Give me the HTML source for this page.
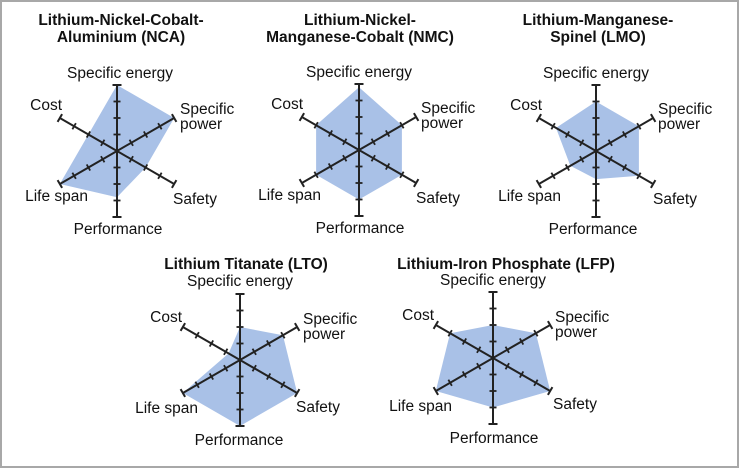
<!DOCTYPE html>
<html><head><meta charset="utf-8"><style>
html,body{margin:0;padding:0;background:#fff}
svg{display:block}
text{font-family:"Liberation Sans",Arial,sans-serif;font-size:15.5px;fill:#111}
.t{font-weight:bold}
</style></head><body>
<svg id="s" width="739" height="468" viewBox="0 0 739 468">
<rect x="1" y="1" width="737" height="466" fill="#fff" stroke="#a8a8a8" stroke-width="2"/>
<g id="polys"></g>
<g id="axes"></g>
<text class="t" x="121" y="25" text-anchor="middle">Lithium-Nickel-Cobalt-</text>
<text class="t" x="121" y="42" text-anchor="middle">Aluminium (NCA)</text>
<text class="t" x="360" y="25" text-anchor="middle">Lithium-Nickel-</text>
<text class="t" x="360" y="42" text-anchor="middle">Manganese-Cobalt (NMC)</text>
<text class="t" x="598" y="25" text-anchor="middle">Lithium-Manganese-</text>
<text class="t" x="598" y="42" text-anchor="middle">Spinel (LMO)</text>
<text class="t" x="246" y="269" text-anchor="middle">Lithium Titanate (LTO)</text>
<text class="t" x="506" y="269" text-anchor="middle">Lithium-Iron Phosphate (LFP)</text>
<text x="120" y="78" text-anchor="middle">Specific energy</text>
<text x="180" y="114">Specific</text><text x="180" y="129">power</text>
<text x="62" y="110" text-anchor="end">Cost</text>
<text x="88" y="201" text-anchor="end">Life span</text>
<text x="173" y="204">Safety</text>
<text x="118" y="234" text-anchor="middle">Performance</text>
<text x="359" y="77" text-anchor="middle">Specific energy</text>
<text x="421" y="113">Specific</text><text x="421" y="128">power</text>
<text x="303" y="109" text-anchor="end">Cost</text>
<text x="321" y="200" text-anchor="end">Life span</text>
<text x="416" y="203">Safety</text>
<text x="360" y="233" text-anchor="middle">Performance</text>
<text x="596" y="78" text-anchor="middle">Specific energy</text>
<text x="658" y="114">Specific</text><text x="658" y="129">power</text>
<text x="542" y="110" text-anchor="end">Cost</text>
<text x="561" y="201" text-anchor="end">Life span</text>
<text x="653" y="204">Safety</text>
<text x="593" y="234" text-anchor="middle">Performance</text>
<text x="240" y="286" text-anchor="middle">Specific energy</text>
<text x="303" y="324">Specific</text><text x="303" y="339">power</text>
<text x="182" y="322" text-anchor="end">Cost</text>
<text x="198" y="413" text-anchor="end">Life span</text>
<text x="296" y="412">Safety</text>
<text x="239" y="445" text-anchor="middle">Performance</text>
<text x="493" y="285" text-anchor="middle">Specific energy</text>
<text x="555" y="322">Specific</text><text x="555" y="337">power</text>
<text x="434" y="320" text-anchor="end">Cost</text>
<text x="452" y="411" text-anchor="end">Life span</text>
<text x="553" y="409">Safety</text>
<text x="494" y="443" text-anchor="middle">Performance</text>
</svg>
<script>
(function(){
var NS="http://www.w3.org/2000/svg";
var charts=[
 {c:[117,151],v:[4,4,2,2.8,4,2]},
 {c:[359,150],v:[3.8,3,3,3,3,3]},
 {c:[596,151],v:[3,3,3,1.7,1.8,2.8]},
 {c:[240,360],v:[2,3,4,4,4,0.8]},
 {c:[493,358],v:[2,3,4,3,4,3]}
];
var step=16.5,R=66;
var ang=[-90,-30,30,90,150,210].map(function(a){return a*Math.PI/180;});
var P=document.getElementById("polys"),A=document.getElementById("axes");
function line(x1,y1,x2,y2,w){var l=document.createElementNS(NS,"line");
 l.setAttribute("x1",x1);l.setAttribute("y1",y1);l.setAttribute("x2",x2);l.setAttribute("y2",y2);
 l.setAttribute("stroke","#222");l.setAttribute("stroke-width",w);A.appendChild(l);}
charts.forEach(function(ch){
 var cx=ch.c[0],cy=ch.c[1],pts=[];
 ang.forEach(function(a,i){var r=ch.v[i]*step;pts.push((cx+r*Math.cos(a)).toFixed(1)+","+(cy+r*Math.sin(a)).toFixed(1));});
 var pg=document.createElementNS(NS,"polygon");pg.setAttribute("points",pts.join(" "));
 pg.setAttribute("fill","#a9c1e7");P.appendChild(pg);
 ang.forEach(function(a){
  var dx=Math.cos(a),dy=Math.sin(a),px=-dy,py=dx;
  line(cx,cy,cx+R*dx,cy+R*dy,2);
  for(var k=1;k<=4;k++){var r=k*step;if(k==4)r=R;var h=(k==4)?4.5:3.5;
   var x=cx+r*dx,y=cy+r*dy;line(x-h*px,y-h*py,x+h*px,y+h*py,k==4?2:1.8);}
 });
});
})();
</script>
</body></html>
